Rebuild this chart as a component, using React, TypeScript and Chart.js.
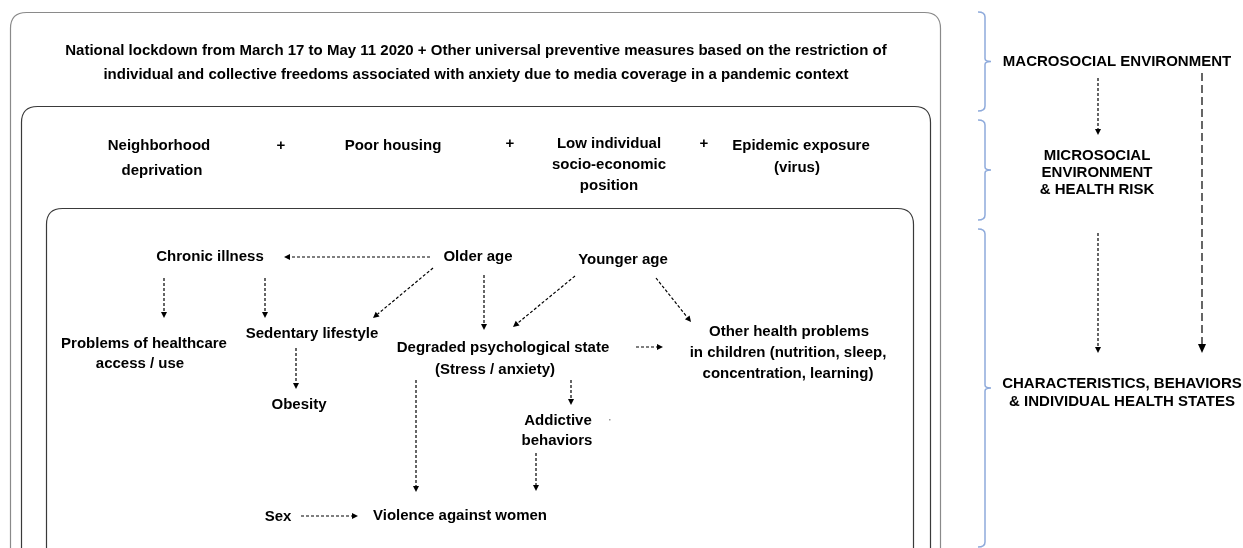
import React, { useEffect, useRef } from "react";
import { Chart, registerables } from "chart.js";

Chart.register(...registerables);

// Diagram nodes: text, x, y (diagram coordinates)
const nodeTexts = [
  "National lockdown from March 17 to May 11 2020 + Other universal preventive measures based on the restriction of",
  "individual and collective freedoms associated with anxiety due to media coverage in a pandemic context",
  "Neighborhood", "deprivation", "+", "Poor housing", "+", "Low individual", "socio-economic", "position", "+",
  "Epidemic exposure", "(virus)",
  "Chronic illness", "Older age", "Younger age",
  "Problems of healthcare", "access / use", "Sedentary lifestyle",
  "Degraded psychological state", "(Stress / anxiety)",
  "Other health problems", "in children (nutrition, sleep,", "concentration, learning)",
  "Obesity", "Addictive", "behaviors", "Sex", "Violence against women",
  "MACROSOCIAL ENVIRONMENT", "MICROSOCIAL", "ENVIRONMENT", "& HEALTH RISK",
  "CHARACTERISTICS, BEHAVIORS", "& INDIVIDUAL HEALTH STATES",
];
const nodeX = [
  476, 476,
  159, 162, 281, 393, 510, 609, 609, 609, 704,
  801, 797,
  210, 478, 623,
  144, 140, 312,
  503, 495,
  789, 788, 788,
  299, 558, 557, 278, 460,
  1117, 1097, 1097, 1097,
  1122, 1122,
];
const nodeY = [
  51, 75,
  146, 171, 146, 146, 144, 144, 165, 186, 144,
  146, 168,
  257, 257, 260,
  344, 364, 334,
  348, 370,
  332, 353, 374,
  405, 421, 441, 517, 516,
  62, 156, 173, 190,
  384, 402,
];

// Nested rounded frames
const frameLeft = [10, 21, 46];
const frameTop = [12, 106, 208];
const frameRight = [940, 930, 913];
const frameBottom = [565, 565, 565];
const frameColor = ["#8a8a8a", "#3a3a3a", "#3a3a3a"];

// Arrows: from (x1,y1) to (x2,y2), dash style
const arrowX1 = [430, 164, 265, 433, 484, 575, 656, 636, 296, 416, 571, 536, 301, 1098, 1098, 1202];
const arrowY1 = [257, 278, 278, 268, 275, 276, 278, 347, 348, 380, 380, 453, 516, 78, 233, 73];
const arrowX2 = [284, 164, 265, 373, 484, 513, 691, 663, 296, 416, 571, 536, 358, 1098, 1098, 1202];
const arrowY2 = [257, 318, 318, 318, 330, 327, 322, 347, 389, 492, 405, 491, 516, 135, 353, 353];
const arrowDash = ["s", "s", "s", "s", "s", "s", "s", "s", "s", "s", "s", "s", "s", "s", "s", "l"];

// Right-hand braces: top, bottom
const braceTop = [12, 120, 229];
const braceBottom = [111, 220, 547];

const diagramPlugin = {
  id: "diagram",
  afterDraw(chart: any) {
    const ctx = chart.ctx as CanvasRenderingContext2D;
    const xs = chart.scales.x;
    const ys = chart.scales.y;
    const px = (v: number) => xs.getPixelForValue(v);
    const py = (v: number) => ys.getPixelForValue(v);
    ctx.save();

    // frames
    frameLeft.forEach((_, i) => {
      const l = px(frameLeft[i]) + 0.5, t = py(frameTop[i]) + 0.5;
      const r = px(frameRight[i]) + 0.5, b = py(frameBottom[i]);
      const rad = 16;
      ctx.beginPath();
      ctx.moveTo(l, b);
      ctx.lineTo(l, t + rad);
      ctx.quadraticCurveTo(l, t, l + rad, t);
      ctx.lineTo(r - rad, t);
      ctx.quadraticCurveTo(r, t, r, t + rad);
      ctx.lineTo(r, b);
      ctx.strokeStyle = frameColor[i];
      ctx.lineWidth = 1.2;
      ctx.setLineDash([]);
      ctx.stroke();
    });

    // braces
    ctx.strokeStyle = "#8eaadb";
    ctx.lineWidth = 1.5;
    braceTop.forEach((_, i) => {
      const t = py(braceTop[i]), b = py(braceBottom[i]);
      const m = (t + b) / 2;
      const x0 = px(978), x1 = px(985), x2 = px(991);
      ctx.beginPath();
      ctx.moveTo(x0, t);
      ctx.quadraticCurveTo(x1, t, x1, t + 5);
      ctx.lineTo(x1, m - 3);
      ctx.quadraticCurveTo(x1, m, x2, m);
      ctx.quadraticCurveTo(x1, m, x1, m + 3);
      ctx.lineTo(x1, b - 5);
      ctx.quadraticCurveTo(x1, b, x0, b);
      ctx.stroke();
    });

    // arrows
    ctx.strokeStyle = "#000";
    ctx.fillStyle = "#000";
    arrowX1.forEach((_, i) => {
      const x1 = px(arrowX1[i]), y1 = py(arrowY1[i]);
      const x2 = px(arrowX2[i]), y2 = py(arrowY2[i]);
      const ang = Math.atan2(y2 - y1, x2 - x1);
      const long = arrowDash[i] === "l";
      const hl = long ? 9 : 6, hw = long ? 4 : 3;
      ctx.lineWidth = 1.2;
      ctx.setLineDash(long ? [8, 4] : [3, 2]);
      ctx.beginPath();
      ctx.moveTo(x1, y1);
      ctx.lineTo(x2 - Math.cos(ang) * hl, y2 - Math.sin(ang) * hl);
      ctx.stroke();
      ctx.setLineDash([]);
      ctx.beginPath();
      ctx.moveTo(x2, y2);
      ctx.lineTo(x2 - Math.cos(ang) * hl - Math.sin(ang) * hw, y2 - Math.sin(ang) * hl + Math.cos(ang) * hw);
      ctx.lineTo(x2 - Math.cos(ang) * hl + Math.sin(ang) * hw, y2 - Math.sin(ang) * hl - Math.cos(ang) * hw);
      ctx.closePath();
      ctx.fill();
    });

    // stray dot
    ctx.fillStyle = "#999";
    ctx.fillRect(px(609), py(419), 1.5, 1.5);

    // texts
    ctx.fillStyle = "#000";
    ctx.textAlign = "center";
    ctx.textBaseline = "middle";
    ctx.font = "bold 15px 'Liberation Sans', Arial, sans-serif";
    nodeTexts.forEach((t, i) => {
      ctx.fillText(t, px(nodeX[i]), py(nodeY[i]));
    });
    ctx.restore();
  },
};

export default function App() {
  const ref = useRef<HTMLCanvasElement | null>(null);
  useEffect(() => {
    document.body.style.margin = "0";
    const chart = new Chart(ref.current as HTMLCanvasElement, {
      type: "scatter",
      data: {
        datasets: [
          {
            data: nodeX.map((x, i) => ({ x, y: nodeY[i] })),
            pointRadius: 0,
            pointHoverRadius: 0,
          },
        ],
      },
      options: {
        animation: false,
        responsive: false,
        events: [],
        layout: { padding: 0 },
        plugins: { legend: { display: false }, tooltip: { enabled: false } },
        scales: {
          x: { type: "linear", min: 0, max: 1243, display: false },
          y: { type: "linear", min: 0, max: 548, reverse: true, display: false },
        },
      },
      plugins: [diagramPlugin],
    });
    return () => chart.destroy();
  }, []);
  return (
    <div style={{ position: "fixed", left: 0, top: 0, width: 1243, height: 548, background: "#fff" }}>
      <canvas ref={ref} width={1243} height={548} style={{ display: "block" }} />
    </div>
  );
}
